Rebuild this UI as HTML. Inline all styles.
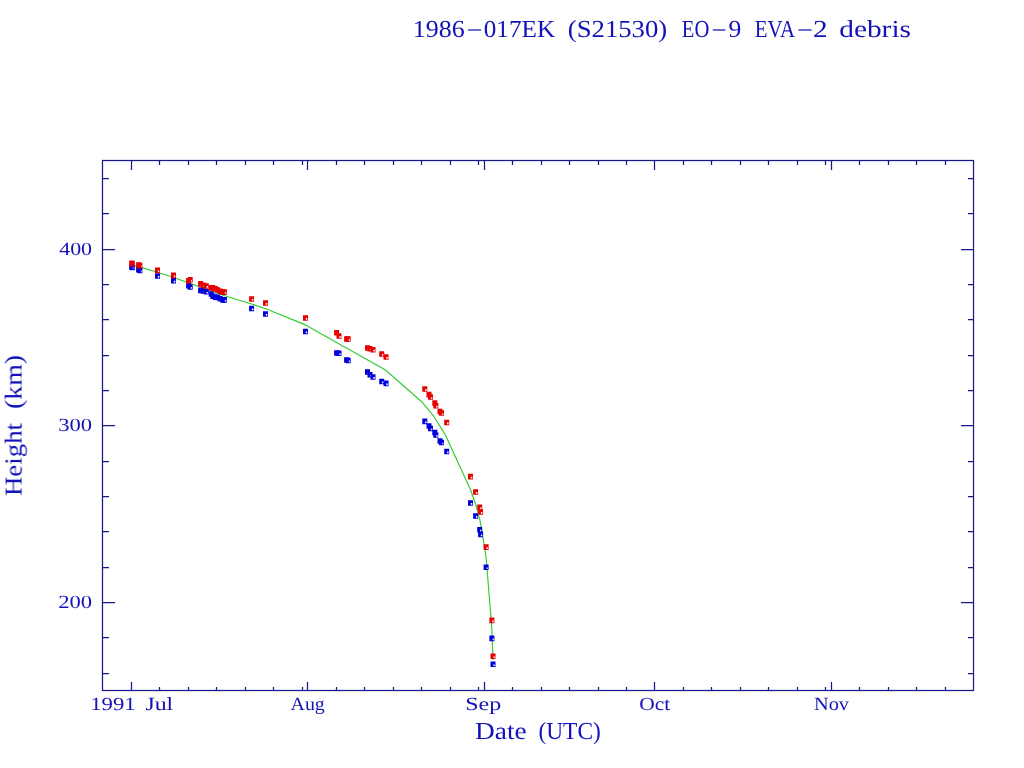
<!DOCTYPE html>
<html lang="en"><head><meta charset="utf-8"><title>1986-017EK (S21530) EO-9 EVA-2 debris</title>
<style>html,body{margin:0;padding:0;background:#fff;width:1024px;height:768px;overflow:hidden}svg{display:block}g.tx{opacity:.999}text{text-rendering:geometricPrecision;font-family:"Liberation Serif","DejaVu Serif",serif;fill:#1212b8;stroke:none}.big{font-size:24.4px}.sm{font-size:18.6px}.hy{font-size:17px}</style></head><body>
<svg width="1024" height="768" viewBox="0 0 1024 768">
<rect x="0" y="0" width="1024" height="768" fill="#ffffff"/>
<polyline points="131.7,264.9 143.3,268.1 153.3,271.0 170.9,276.5 184.0,281.3 203.0,288.0 217.0,293.3 227.0,296.5 240.0,300.5 251.6,304.0 265.7,308.7 305.5,324.9 385.1,369.7 421.7,401.7 433.4,415.8 445.2,434.5 470.5,489.8 475.6,504.0 480.1,520.8 486.1,557.2 491.9,629.4 493.0,660.3" fill="none" stroke="#30cc30" stroke-width="1.15" stroke-linejoin="round"/>
<g shape-rendering="auto">
<path fill-rule="evenodd" fill="#0000dc" d="M129.2 264.2h5.0v5.6h-5.0zM132.0 267.1h1.5v1.7h-1.5z"/>
<path fill-rule="evenodd" fill="#0000dc" d="M129.8 264.6h5.0v5.6h-5.0zM132.6 267.5h1.5v1.7h-1.5z"/>
<path fill-rule="evenodd" fill="#0000dc" d="M136.1 266.8h5.0v5.6h-5.0zM138.9 269.7h1.5v1.7h-1.5z"/>
<path fill-rule="evenodd" fill="#0000dc" d="M137.4 267.6h5.0v5.6h-5.0zM140.2 270.5h1.5v1.7h-1.5z"/>
<path fill-rule="evenodd" fill="#0000dc" d="M155.0 273.2h5.0v5.6h-5.0zM157.8 276.1h1.5v1.7h-1.5z"/>
<path fill-rule="evenodd" fill="#0000dc" d="M171.0 277.8h5.0v5.6h-5.0zM173.8 280.7h1.5v1.7h-1.5z"/>
<path fill-rule="evenodd" fill="#0000dc" d="M186.1 282.8h5.0v5.6h-5.0zM188.9 285.7h1.5v1.7h-1.5z"/>
<path fill-rule="evenodd" fill="#0000dc" d="M187.7 284.2h5.0v5.6h-5.0zM190.5 287.1h1.5v1.7h-1.5z"/>
<path fill-rule="evenodd" fill="#0000dc" d="M198.1 287.6h5.0v5.6h-5.0zM200.9 290.5h1.5v1.7h-1.5z"/>
<path fill-rule="evenodd" fill="#0000dc" d="M200.9 288.2h5.0v5.6h-5.0zM203.7 291.1h1.5v1.7h-1.5z"/>
<path fill-rule="evenodd" fill="#0000dc" d="M203.8 289.0h5.0v5.6h-5.0zM206.6 291.9h1.5v1.7h-1.5z"/>
<path fill-rule="evenodd" fill="#0000dc" d="M208.7 291.2h5.0v5.6h-5.0zM211.5 294.1h1.5v1.7h-1.5z"/>
<path fill-rule="evenodd" fill="#0000dc" d="M210.3 293.5h5.0v5.6h-5.0zM213.1 296.4h1.5v1.7h-1.5z"/>
<path fill-rule="evenodd" fill="#0000dc" d="M212.8 294.4h5.0v5.6h-5.0zM215.6 297.3h1.5v1.7h-1.5z"/>
<path fill-rule="evenodd" fill="#0000dc" d="M215.2 294.6h5.0v5.6h-5.0zM218.0 297.5h1.5v1.7h-1.5z"/>
<path fill-rule="evenodd" fill="#0000dc" d="M217.7 296.0h5.0v5.6h-5.0zM220.5 298.9h1.5v1.7h-1.5z"/>
<path fill-rule="evenodd" fill="#0000dc" d="M220.2 297.1h5.0v5.6h-5.0zM223.0 300.0h1.5v1.7h-1.5z"/>
<path fill-rule="evenodd" fill="#0000dc" d="M221.9 297.1h5.0v5.6h-5.0zM224.7 300.0h1.5v1.7h-1.5z"/>
<path fill-rule="evenodd" fill="#0000dc" d="M249.1 305.7h5.0v5.6h-5.0zM251.9 308.6h1.5v1.7h-1.5z"/>
<path fill-rule="evenodd" fill="#0000dc" d="M263.0 311.2h5.0v5.6h-5.0zM265.8 314.1h1.5v1.7h-1.5z"/>
<path fill-rule="evenodd" fill="#0000dc" d="M303.0 328.7h5.0v5.6h-5.0zM305.8 331.6h1.5v1.7h-1.5z"/>
<path fill-rule="evenodd" fill="#0000dc" d="M334.1 350.2h5.0v5.6h-5.0zM336.9 353.1h1.5v1.7h-1.5z"/>
<path fill-rule="evenodd" fill="#0000dc" d="M336.5 350.5h5.0v5.6h-5.0zM339.3 353.4h1.5v1.7h-1.5z"/>
<path fill-rule="evenodd" fill="#0000dc" d="M344.1 357.2h5.0v5.6h-5.0zM346.9 360.1h1.5v1.7h-1.5z"/>
<path fill-rule="evenodd" fill="#0000dc" d="M345.7 357.7h5.0v5.6h-5.0zM348.5 360.6h1.5v1.7h-1.5z"/>
<path fill-rule="evenodd" fill="#0000dc" d="M365.0 369.2h5.0v5.6h-5.0zM367.8 372.1h1.5v1.7h-1.5z"/>
<path fill-rule="evenodd" fill="#0000dc" d="M367.5 372.0h5.0v5.6h-5.0zM370.3 374.9h1.5v1.7h-1.5z"/>
<path fill-rule="evenodd" fill="#0000dc" d="M370.5 374.2h5.0v5.6h-5.0zM373.3 377.1h1.5v1.7h-1.5z"/>
<path fill-rule="evenodd" fill="#0000dc" d="M379.2 378.7h5.0v5.6h-5.0zM382.0 381.6h1.5v1.7h-1.5z"/>
<path fill-rule="evenodd" fill="#0000dc" d="M383.5 380.6h5.0v5.6h-5.0zM386.3 383.5h1.5v1.7h-1.5z"/>
<path fill-rule="evenodd" fill="#0000dc" d="M422.3 418.6h5.0v5.6h-5.0zM425.1 421.5h1.5v1.7h-1.5z"/>
<path fill-rule="evenodd" fill="#0000dc" d="M426.5 423.2h5.0v5.6h-5.0zM429.3 426.1h1.5v1.7h-1.5z"/>
<path fill-rule="evenodd" fill="#0000dc" d="M428.0 425.7h5.0v5.6h-5.0zM430.8 428.6h1.5v1.7h-1.5z"/>
<path fill-rule="evenodd" fill="#0000dc" d="M432.3 429.7h5.0v5.6h-5.0zM435.1 432.6h1.5v1.7h-1.5z"/>
<path fill-rule="evenodd" fill="#0000dc" d="M433.3 432.2h5.0v5.6h-5.0zM436.1 435.1h1.5v1.7h-1.5z"/>
<path fill-rule="evenodd" fill="#0000dc" d="M437.5 438.2h5.0v5.6h-5.0zM440.3 441.1h1.5v1.7h-1.5z"/>
<path fill-rule="evenodd" fill="#0000dc" d="M439.0 439.7h5.0v5.6h-5.0zM441.8 442.6h1.5v1.7h-1.5z"/>
<path fill-rule="evenodd" fill="#0000dc" d="M444.2 448.7h5.0v5.6h-5.0zM447.0 451.6h1.5v1.7h-1.5z"/>
<path fill-rule="evenodd" fill="#0000dc" d="M468.0 500.2h5.0v5.6h-5.0zM470.8 503.1h1.5v1.7h-1.5z"/>
<path fill-rule="evenodd" fill="#0000dc" d="M473.1 513.2h5.0v5.6h-5.0zM475.9 516.1h1.5v1.7h-1.5z"/>
<path fill-rule="evenodd" fill="#0000dc" d="M477.2 526.9h5.0v5.6h-5.0zM480.0 529.8h1.5v1.7h-1.5z"/>
<path fill-rule="evenodd" fill="#0000dc" d="M478.1 531.6h5.0v5.6h-5.0zM480.9 534.5h1.5v1.7h-1.5z"/>
<path fill-rule="evenodd" fill="#0000dc" d="M483.6 564.5h5.0v5.6h-5.0zM486.4 567.4h1.5v1.7h-1.5z"/>
<path fill-rule="evenodd" fill="#0000dc" d="M489.4 635.6h5.0v5.6h-5.0zM492.2 638.5h1.5v1.7h-1.5z"/>
<path fill-rule="evenodd" fill="#0000dc" d="M490.5 661.5h5.0v5.6h-5.0zM493.3 664.4h1.5v1.7h-1.5z"/>
<path fill-rule="evenodd" fill="#e60000" d="M129.2 260.4h5.0v5.6h-5.0zM132.0 263.3h1.5v1.7h-1.5z"/>
<path fill-rule="evenodd" fill="#e60000" d="M129.8 261.0h5.0v5.6h-5.0zM132.6 263.9h1.5v1.7h-1.5z"/>
<path fill-rule="evenodd" fill="#e60000" d="M136.1 262.2h5.0v5.6h-5.0zM138.9 265.1h1.5v1.7h-1.5z"/>
<path fill-rule="evenodd" fill="#e60000" d="M137.4 262.8h5.0v5.6h-5.0zM140.2 265.7h1.5v1.7h-1.5z"/>
<path fill-rule="evenodd" fill="#e60000" d="M155.0 267.6h5.0v5.6h-5.0zM157.8 270.5h1.5v1.7h-1.5z"/>
<path fill-rule="evenodd" fill="#e60000" d="M171.0 272.6h5.0v5.6h-5.0zM173.8 275.5h1.5v1.7h-1.5z"/>
<path fill-rule="evenodd" fill="#e60000" d="M186.1 278.0h5.0v5.6h-5.0zM188.9 280.9h1.5v1.7h-1.5z"/>
<path fill-rule="evenodd" fill="#e60000" d="M187.7 277.0h5.0v5.6h-5.0zM190.5 279.9h1.5v1.7h-1.5z"/>
<path fill-rule="evenodd" fill="#e60000" d="M198.1 281.1h5.0v5.6h-5.0zM200.9 284.0h1.5v1.7h-1.5z"/>
<path fill-rule="evenodd" fill="#e60000" d="M200.9 282.4h5.0v5.6h-5.0zM203.7 285.3h1.5v1.7h-1.5z"/>
<path fill-rule="evenodd" fill="#e60000" d="M203.8 283.2h5.0v5.6h-5.0zM206.6 286.1h1.5v1.7h-1.5z"/>
<path fill-rule="evenodd" fill="#e60000" d="M208.7 285.0h5.0v5.6h-5.0zM211.5 287.9h1.5v1.7h-1.5z"/>
<path fill-rule="evenodd" fill="#e60000" d="M210.3 285.1h5.0v5.6h-5.0zM213.1 288.0h1.5v1.7h-1.5z"/>
<path fill-rule="evenodd" fill="#e60000" d="M212.8 286.0h5.0v5.6h-5.0zM215.6 288.9h1.5v1.7h-1.5z"/>
<path fill-rule="evenodd" fill="#e60000" d="M215.2 287.2h5.0v5.6h-5.0zM218.0 290.1h1.5v1.7h-1.5z"/>
<path fill-rule="evenodd" fill="#e60000" d="M217.7 288.4h5.0v5.6h-5.0zM220.5 291.3h1.5v1.7h-1.5z"/>
<path fill-rule="evenodd" fill="#e60000" d="M220.2 289.2h5.0v5.6h-5.0zM223.0 292.1h1.5v1.7h-1.5z"/>
<path fill-rule="evenodd" fill="#e60000" d="M221.9 289.3h5.0v5.6h-5.0zM224.7 292.2h1.5v1.7h-1.5z"/>
<path fill-rule="evenodd" fill="#e60000" d="M249.1 296.2h5.0v5.6h-5.0zM251.9 299.1h1.5v1.7h-1.5z"/>
<path fill-rule="evenodd" fill="#e60000" d="M263.0 300.2h5.0v5.6h-5.0zM265.8 303.1h1.5v1.7h-1.5z"/>
<path fill-rule="evenodd" fill="#e60000" d="M303.0 315.2h5.0v5.6h-5.0zM305.8 318.1h1.5v1.7h-1.5z"/>
<path fill-rule="evenodd" fill="#e60000" d="M334.1 330.0h5.0v5.6h-5.0zM336.9 332.9h1.5v1.7h-1.5z"/>
<path fill-rule="evenodd" fill="#e60000" d="M336.5 333.2h5.0v5.6h-5.0zM339.3 336.1h1.5v1.7h-1.5z"/>
<path fill-rule="evenodd" fill="#e60000" d="M344.1 336.2h5.0v5.6h-5.0zM346.9 339.1h1.5v1.7h-1.5z"/>
<path fill-rule="evenodd" fill="#e60000" d="M345.7 336.2h5.0v5.6h-5.0zM348.5 339.1h1.5v1.7h-1.5z"/>
<path fill-rule="evenodd" fill="#e60000" d="M365.0 345.2h5.0v5.6h-5.0zM367.8 348.1h1.5v1.7h-1.5z"/>
<path fill-rule="evenodd" fill="#e60000" d="M367.5 345.9h5.0v5.6h-5.0zM370.3 348.8h1.5v1.7h-1.5z"/>
<path fill-rule="evenodd" fill="#e60000" d="M370.5 346.9h5.0v5.6h-5.0zM373.3 349.8h1.5v1.7h-1.5z"/>
<path fill-rule="evenodd" fill="#e60000" d="M379.2 351.2h5.0v5.6h-5.0zM382.0 354.1h1.5v1.7h-1.5z"/>
<path fill-rule="evenodd" fill="#e60000" d="M383.5 354.2h5.0v5.6h-5.0zM386.3 357.1h1.5v1.7h-1.5z"/>
<path fill-rule="evenodd" fill="#e60000" d="M422.3 386.2h5.0v5.6h-5.0zM425.1 389.1h1.5v1.7h-1.5z"/>
<path fill-rule="evenodd" fill="#e60000" d="M426.5 391.8h5.0v5.6h-5.0zM429.3 394.7h1.5v1.7h-1.5z"/>
<path fill-rule="evenodd" fill="#e60000" d="M428.0 394.2h5.0v5.6h-5.0zM430.8 397.1h1.5v1.7h-1.5z"/>
<path fill-rule="evenodd" fill="#e60000" d="M432.3 400.2h5.0v5.6h-5.0zM435.1 403.1h1.5v1.7h-1.5z"/>
<path fill-rule="evenodd" fill="#e60000" d="M433.3 403.0h5.0v5.6h-5.0zM436.1 405.9h1.5v1.7h-1.5z"/>
<path fill-rule="evenodd" fill="#e60000" d="M437.5 408.7h5.0v5.6h-5.0zM440.3 411.6h1.5v1.7h-1.5z"/>
<path fill-rule="evenodd" fill="#e60000" d="M439.0 410.2h5.0v5.6h-5.0zM441.8 413.1h1.5v1.7h-1.5z"/>
<path fill-rule="evenodd" fill="#e60000" d="M444.2 419.7h5.0v5.6h-5.0zM447.0 422.6h1.5v1.7h-1.5z"/>
<path fill-rule="evenodd" fill="#e60000" d="M468.0 473.8h5.0v5.6h-5.0zM470.8 476.7h1.5v1.7h-1.5z"/>
<path fill-rule="evenodd" fill="#e60000" d="M473.1 489.2h5.0v5.6h-5.0zM475.9 492.1h1.5v1.7h-1.5z"/>
<path fill-rule="evenodd" fill="#e60000" d="M477.2 504.5h5.0v5.6h-5.0zM480.0 507.4h1.5v1.7h-1.5z"/>
<path fill-rule="evenodd" fill="#e60000" d="M478.1 509.2h5.0v5.6h-5.0zM480.9 512.1h1.5v1.7h-1.5z"/>
<path fill-rule="evenodd" fill="#e60000" d="M483.6 544.3h5.0v5.6h-5.0zM486.4 547.2h1.5v1.7h-1.5z"/>
<path fill-rule="evenodd" fill="#e60000" d="M489.4 617.6h5.0v5.6h-5.0zM492.2 620.5h1.5v1.7h-1.5z"/>
<path fill-rule="evenodd" fill="#e60000" d="M490.5 653.5h5.0v5.6h-5.0zM493.3 656.4h1.5v1.7h-1.5z"/>
</g>
<g stroke="#18188c" stroke-width="1.25" fill="none" stroke-linecap="butt">
<rect x="102.5" y="160.5" width="871.0" height="530.0"/>
<path d="M131.50 690.5v-8.5M131.50 160.5v9.5M159.50 690.5v-3.5M159.50 160.5v4.5M188.50 690.5v-3.5M188.50 160.5v4.5M216.50 690.5v-3.5M216.50 160.5v4.5M245.50 690.5v-3.5M245.50 160.5v4.5M273.50 690.5v-3.5M273.50 160.5v4.5M302.50 690.5v-3.5M302.50 160.5v4.5M307.50 690.5v-8.5M307.50 160.5v9.5M336.50 690.5v-3.5M336.50 160.5v4.5M364.50 690.5v-3.5M364.50 160.5v4.5M393.50 690.5v-3.5M393.50 160.5v4.5M421.50 690.5v-3.5M421.50 160.5v4.5M450.50 690.5v-3.5M450.50 160.5v4.5M478.50 690.5v-3.5M478.50 160.5v4.5M484.50 690.5v-8.5M484.50 160.5v9.5M512.50 690.5v-3.5M512.50 160.5v4.5M541.50 690.5v-3.5M541.50 160.5v4.5M569.50 690.5v-3.5M569.50 160.5v4.5M598.50 690.5v-3.5M598.50 160.5v4.5M626.50 690.5v-3.5M626.50 160.5v4.5M654.50 690.5v-8.5M654.50 160.5v9.5M683.50 690.5v-3.5M683.50 160.5v4.5M711.50 690.5v-3.5M711.50 160.5v4.5M740.50 690.5v-3.5M740.50 160.5v4.5M768.50 690.5v-3.5M768.50 160.5v4.5M797.50 690.5v-3.5M797.50 160.5v4.5M825.50 690.5v-3.5M825.50 160.5v4.5M831.50 690.5v-8.5M831.50 160.5v9.5M859.50 690.5v-3.5M859.50 160.5v4.5M888.50 690.5v-3.5M888.50 160.5v4.5M916.50 690.5v-3.5M916.50 160.5v4.5M945.50 690.5v-3.5M945.50 160.5v4.5M102.5 673.50h6.5M973.5 673.50h-5.5M102.5 637.50h6.5M973.5 637.50h-5.5M102.5 602.50h12.5M973.5 602.50h-12.5M102.5 567.50h6.5M973.5 567.50h-5.5M102.5 531.50h6.5M973.5 531.50h-5.5M102.5 496.50h6.5M973.5 496.50h-5.5M102.5 461.50h6.5M973.5 461.50h-5.5M102.5 425.50h12.5M973.5 425.50h-12.5M102.5 390.50h6.5M973.5 390.50h-5.5M102.5 355.50h6.5M973.5 355.50h-5.5M102.5 319.50h6.5M973.5 319.50h-5.5M102.5 284.50h6.5M973.5 284.50h-5.5M102.5 249.50h12.5M973.5 249.50h-12.5M102.5 213.50h6.5M973.5 213.50h-5.5M102.5 178.50h6.5M973.5 178.50h-5.5"/>
</g>
<g class="tx">
<text><tspan class="big" x="412.80" y="36.9" textLength="51.99" lengthAdjust="spacingAndGlyphs">1986</tspan><tspan class="hy" x="466.40" y="33.7" textLength="16.64" lengthAdjust="spacingAndGlyphs">-</tspan><tspan class="big" x="483.80" y="36.9" textLength="71.25" lengthAdjust="spacingAndGlyphs">017EK</tspan> <tspan class="big" x="567.80" y="36.9" textLength="99.45" lengthAdjust="spacingAndGlyphs">(S21530)</tspan> <tspan class="big" x="681.80" y="36.9" textLength="27.46" lengthAdjust="spacingAndGlyphs">EO</tspan><tspan class="hy" x="711.00" y="33.7" textLength="16.14" lengthAdjust="spacingAndGlyphs">-</tspan><tspan class="big" x="728.60" y="36.9" textLength="12.83" lengthAdjust="spacingAndGlyphs">9</tspan> <tspan class="big" x="754.80" y="36.9" textLength="40.21" lengthAdjust="spacingAndGlyphs">EVA</tspan><tspan class="hy" x="796.60" y="33.7" textLength="16.90" lengthAdjust="spacingAndGlyphs">-</tspan><tspan class="big" x="813.00" y="36.9" textLength="14.69" lengthAdjust="spacingAndGlyphs">2</tspan> <tspan class="big" x="839.20" y="36.9" textLength="71.83" lengthAdjust="spacingAndGlyphs">debris</tspan></text>
<text><tspan class="big" x="475.00" y="739.0" textLength="51.67" lengthAdjust="spacingAndGlyphs">Date</tspan> <tspan class="big" x="538.40" y="739.0" textLength="62.45" lengthAdjust="spacingAndGlyphs">(UTC)</tspan></text>
<g transform="translate(21.6,495) rotate(-90)"><text><tspan class="big" x="-1.00" y="0.0" textLength="73.01" lengthAdjust="spacingAndGlyphs">Height</tspan> <tspan class="big" x="86.00" y="0.0" textLength="54.14" lengthAdjust="spacingAndGlyphs">(km)</tspan></text></g>
<text><tspan class="sm" x="90.20" y="709.8" textLength="45.55" lengthAdjust="spacingAndGlyphs">1991</tspan> <tspan class="sm" x="145.40" y="709.8" textLength="27.85" lengthAdjust="spacingAndGlyphs">Jul</tspan></text>
<text><tspan class="sm" x="290.60" y="709.8" textLength="34.22" lengthAdjust="spacingAndGlyphs">Aug</tspan></text>
<text><tspan class="sm" x="465.20" y="709.8" textLength="35.99" lengthAdjust="spacingAndGlyphs">Sep</tspan></text>
<text><tspan class="sm" x="639.20" y="709.8" textLength="31.08" lengthAdjust="spacingAndGlyphs">Oct</tspan></text>
<text><tspan class="sm" x="814.00" y="709.8" textLength="35.03" lengthAdjust="spacingAndGlyphs">Nov</tspan></text>
<text><tspan class="sm" x="59.20" y="254.7" textLength="32.87" lengthAdjust="spacingAndGlyphs">400</tspan></text>
<text><tspan class="sm" x="58.20" y="430.9" textLength="33.90" lengthAdjust="spacingAndGlyphs">300</tspan></text>
<text><tspan class="sm" x="58.20" y="607.6" textLength="33.87" lengthAdjust="spacingAndGlyphs">200</tspan></text>
</g>
</svg></body></html>
